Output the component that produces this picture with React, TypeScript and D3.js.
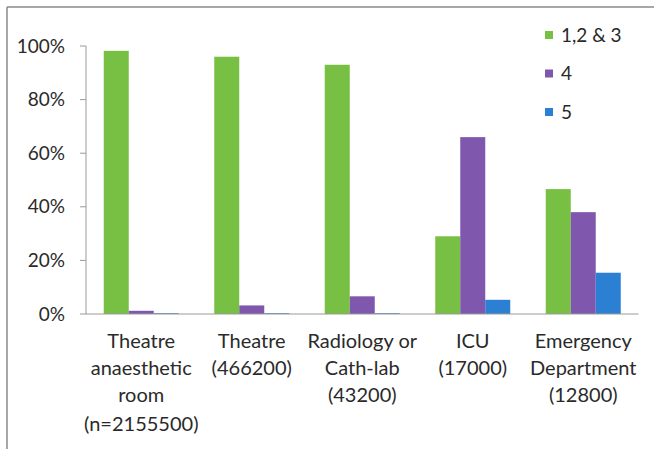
import React from "react";
import * as d3 from "d3";

const categories = ["Theatre anaesthetic room", "Theatre", "Radiology or Cath-lab", "ICU", "Emergency Department"];
const categoryLines = [
  ["Theatre", "anaesthetic", "room", "(n=2155500)"],
  ["Theatre", "(466200)"],
  ["Radiology or", "Cath-lab", "(43200)"],
  ["ICU", "(17000)"],
  ["Emergency", "Department", "(12800)"],
];
const seriesNames = ["1,2 & 3", "4", "5"];
const series123 = [98.2, 96, 93, 29, 46.6];
const series4 = [1.2, 3.2, 6.6, 66, 38];
const series5 = [0.3, 0.3, 0.3, 5.3, 15.4];
const yTicks = [0, 20, 40, 60, 80, 100];

const colors = ["#77c043", "#7f58ae", "#2b80d3"];
const W = 654;
const H = 449;
const FONT = "Lato, 'Open Sans', sans-serif";

export default function App() {
  const seriesValues = [series123, series4, series5];
  const x = d3.scaleBand<string>().domain(categories).range([86, 638.5]).paddingInner(0).paddingOuter(0);
  const xs = d3.scaleBand<string>().domain(seriesNames).range([0, x.bandwidth()]).paddingInner(0).paddingOuter(0.71);
  const y = d3.scaleLinear().domain([0, 100]).range([314, 46]);
  const lineY = [348, 375, 402, 431];

  return (
    <svg width={W} height={H} style={{ position: "absolute", left: 0, top: 0, background: "#fff" }} fontFamily={FONT}>
      <rect x={0} y={0} width={W} height={H} fill="#fff" />
      {/* frame */}
      <line x1={7} y1={7} x2={W} y2={7} stroke="#8a8a8a" strokeWidth={1.5} />
      <line x1={7} y1={7} x2={7} y2={H} stroke="#8a8a8a" strokeWidth={1.5} />

      {/* bars */}
      {seriesValues.map((vals, si) =>
        vals.map((v, ci) => (
          <rect
            key={`${si}-${ci}`}
            x={(x(categories[ci]) ?? 0) + (xs(seriesNames[si]) ?? 0)}
            y={y(v)}
            width={xs.bandwidth()}
            height={y(0) - y(v)}
            fill={colors[si]}
          />
        ))
      )}

      {/* y axis */}
      <line x1={86} y1={y(0)} x2={86} y2={y(100)} stroke="#9a9a9a" strokeWidth={1} />
      {yTicks.map((t) => (
        <g key={t}>
          <line x1={80} x2={86} y1={y(t)} y2={y(t)} stroke="#9a9a9a" strokeWidth={1} />
          <text x={65} y={y(t)} dy="0.35em" textAnchor="end" fontSize={19} fill="#2a2a2a">
            {t}%
          </text>
        </g>
      ))}

      {/* x axis */}
      <line x1={86} y1={y(0)} x2={638.5} y2={y(0)} stroke="#9a9a9a" strokeWidth={1} />
      {categories.map((c, ci) => (
        <g key={c}>
          {categoryLines[ci].map((ln, li) => (
            <text
              key={li}
              x={(x(c) ?? 0) + x.bandwidth() / 2}
              y={lineY[li]}
              textAnchor="middle"
              fontSize={20}
              fill="#2a2a2a"
            >
              {ln}
            </text>
          ))}
        </g>
      ))}

      {/* legend */}
      {seriesNames.map((s, i) => (
        <g key={s}>
          <rect x={545} y={31 + i * 38.5} width={8} height={8} fill={colors[i]} />
          <text x={561} y={35 + i * 38.5} dy="0.35em" fontSize={19} fill="#2a2a2a">
            {s}
          </text>
        </g>
      ))}
    </svg>
  );
}
